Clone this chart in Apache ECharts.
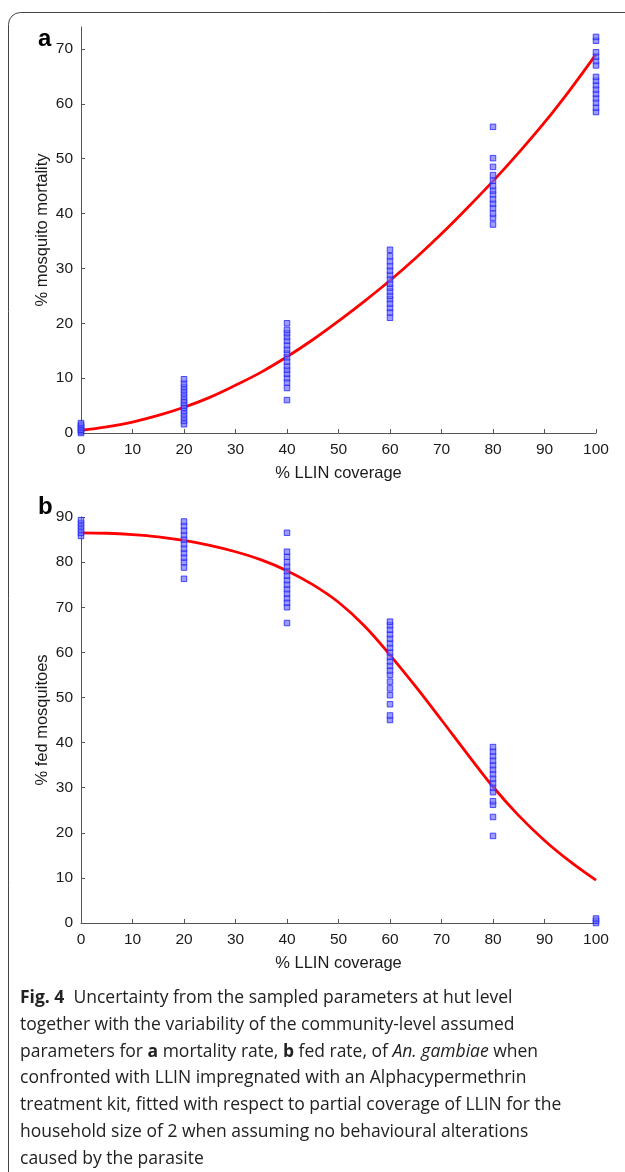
<!DOCTYPE html>
<html>
<head>
<meta charset="utf-8">
<script src="https://cdn.jsdelivr.net/npm/echarts@6/dist/echarts.min.js"></script>
<style>
html,body{margin:0;padding:0;background:#fff;}
#chart{width:625px;height:1172px;}
</style>
</head>
<body>
<div id="chart"></div>
<script>
// ---- data ----
var coverage = [0, 20, 40, 60, 80, 100];

// panel a: % mosquito mortality, sampled values at each coverage
var mortality0 = [0, 0.3, 0.6, 0.9, 1.2, 1.5, 1.8];
var mortality20 = [1.6, 2.2, 2.8, 3.4, 4.0, 4.6, 5.0, 5.5, 6.0, 6.6, 7.2, 7.8, 8.4, 9.0, 9.8];
var mortality40 = [6.0, 8.2, 9.2, 10.0, 10.8, 11.5, 12.2, 13.0, 13.8, 14.5, 15.2, 16.0, 16.8, 17.5, 18.2, 18.8, 20.0];
var mortality60 = [21.0, 22.0, 22.8, 23.6, 24.4, 25.0, 25.8, 26.5, 27.2, 28.0, 28.8, 29.6, 30.4, 31.3, 32.2, 33.4];
var mortality80 = [38.0, 39.2, 40.0, 41.0, 41.8, 42.6, 43.5, 44.2, 45.0, 46.0, 47.0, 48.5, 50.1, 55.8];
var mortality100 = [58.5, 59.3, 60.2, 61.0, 61.8, 62.6, 63.4, 64.2, 64.9, 67.0, 67.8, 68.6, 69.4, 71.5, 72.2];

// panel b: % fed mosquitoes
var fed0 = [85.8, 86.5, 87.2, 87.9, 88.6, 89.3, 90.2];
var fed20 = [76.3, 78.8, 80.0, 81.0, 82.0, 83.0, 84.0, 85.0, 86.0, 87.0, 88.0, 89.0];
var fed40 = [66.5, 70.0, 71.0, 72.0, 73.0, 74.0, 75.0, 76.0, 77.0, 78.0, 79.0, 80.0, 81.2, 82.3, 86.5];
var fed60 = [45.0, 46.0, 48.5, 50.5, 52.0, 53.5, 55.0, 56.0, 57.0, 58.0, 59.0, 60.0, 61.0, 62.0, 63.0, 64.0, 65.0, 66.0, 66.8];
var fed80 = [19.3, 23.5, 26.2, 27.0, 29.0, 30.0, 31.0, 32.0, 33.0, 34.0, 35.0, 36.0, 37.0, 38.0, 39.0];
var fed100 = [0, 0.5, 1.0];

// fitted curves
var curveX = [0, 5, 10, 15, 20, 25, 30, 35, 40, 45, 50, 55, 60, 65, 70, 75, 80, 85, 90, 95, 100];
var curveMortality = [0.5, 1.1, 2.0, 3.2, 4.7, 6.5, 8.7, 11.1, 13.9, 17.0, 20.4, 24.0, 27.8, 31.9, 36.3, 41.0, 45.9, 51.1, 56.6, 62.6, 69.0];
var curveFed = [86.5, 86.4, 86.1, 85.6, 84.8, 83.7, 82.3, 80.5, 78.1, 75.0, 71.1, 65.9, 59.4, 52.4, 45.0, 37.5, 30.2, 23.8, 18.3, 13.6, 9.5];

// tick labels
var xTicks = [0, 10, 20, 30, 40, 50, 60, 70, 80, 90, 100];
var yTicksA = [0, 10, 20, 30, 40, 50, 60, 70];
var yTicksB = [0, 10, 20, 30, 40, 50, 60, 70, 80, 90];

var captionLines = [
  '{b|Fig. 4}  Uncertainty from the sampled parameters at hut level',
  'together with the variability of the community-level assumed',
  'parameters for {b|a} mortality rate, {b|b} fed rate, of {i|An. gambiae} when',
  'confronted with LLIN impregnated with an Alphacypermethrin',
  'treatment kit, fitted with respect to partial coverage of LLIN for the',
  'household size of 2 when assuming no behavioural alterations',
  'caused by the parasite'
];

// ---- build ----
function pts(groups) {
  var out = [];
  groups.forEach(function (arr, i) {
    arr.forEach(function (v) { out.push([coverage[i], v]); });
  });
  return out;
}
function zip(xs, ys) { return xs.map(function (x, i) { return [x, ys[i]]; }); }

var scatterA = pts([mortality0, mortality20, mortality40, mortality60, mortality80, mortality100]);
var scatterB = pts([fed0, fed20, fed40, fed60, fed80, fed100]);

var axisColor = '#555';
var ff = 'Liberation Sans, Arial, sans-serif';
var labelFont = {color: '#1a1a1a', fontSize: 15.5, fontFamily: ff};
var nameFont = {color: '#1a1a1a', fontSize: 16.5, fontFamily: ff};

function xAxis(gi) {
  return {
    type: 'value', gridIndex: gi, min: 0, max: 100, interval: 10,
    name: '% LLIN coverage', nameLocation: 'middle', nameGap: 32, nameTextStyle: nameFont,
    nameMoveOverlap: false,
    axisLine: {show: true, lineStyle: {color: axisColor, width: 1}},
    axisTick: {show: true, inside: true, length: 4, lineStyle: {color: axisColor}},
    axisLabel: Object.assign({margin: 9, customValues: xTicks}, labelFont),
    splitLine: {show: false}
  };
}
function yAxis(gi, name, max, ticks) {
  return {
    type: 'value', gridIndex: gi, min: 0, max: max, interval: 10,
    name: name, nameLocation: 'middle', nameGap: 30, nameTextStyle: nameFont,
    nameMoveOverlap: false,
    axisLine: {show: true, lineStyle: {color: axisColor, width: 1}},
    axisTick: {show: true, inside: true, length: 4, lineStyle: {color: axisColor}, customValues: ticks},
    axisLabel: Object.assign({margin: 8, customValues: ticks}, labelFont),
    splitLine: {show: false}
  };
}

var markerStyle = {color: 'rgba(110,110,255,0.85)', borderColor: '#2424ff', borderWidth: 1};
var lineStyle = {color: '#ff0000', width: 2.8};

var chart = echarts.init(document.getElementById('chart'), null, {renderer: 'canvas'});
chart.setOption({
  animation: false,
  backgroundColor: '#fff',
  grid: [
    {left: 81, right: 29, top: 27, bottom: 1172 - 433},
    {left: 81, right: 29, top: 517, bottom: 1172 - 923}
  ],
  xAxis: [xAxis(0), xAxis(1)],
  yAxis: [
    yAxis(0, '% mosquito mortality', 74, yTicksA),
    yAxis(1, '% fed mosquitoes', 90, yTicksB)
  ],
  series: [
    {type: 'line', xAxisIndex: 0, yAxisIndex: 0, data: zip(curveX, curveMortality), smooth: 0.4,
     showSymbol: false, lineStyle: lineStyle, z: 2},
    {type: 'scatter', xAxisIndex: 0, yAxisIndex: 0, data: scatterA, symbol: 'rect', symbolSize: 5.5,
     itemStyle: markerStyle, z: 3},
    {type: 'line', xAxisIndex: 1, yAxisIndex: 1, data: zip(curveX, curveFed), smooth: 0.4,
     showSymbol: false, lineStyle: lineStyle, z: 2},
    {type: 'scatter', xAxisIndex: 1, yAxisIndex: 1, data: scatterB, symbol: 'rect', symbolSize: 5.5,
     itemStyle: markerStyle, z: 3}
  ],
  graphic: [
    {type: 'rect', shape: {x: 8.5, y: 12.5, width: 800, height: 1400, r: [12, 0, 0, 0]},
     style: {fill: 'none', stroke: '#444', lineWidth: 1}, silent: true},
    {type: 'text', left: 38, top: 27, style: {text: 'a', font: 'bold 24px Liberation Sans, Arial, sans-serif', fill: '#000'}},
    {type: 'text', left: 38, top: 495, style: {text: 'b', font: 'bold 24px Liberation Sans, Arial, sans-serif', fill: '#000'}},
    {type: 'text', left: 20, top: 985,
     style: {
       text: captionLines.join('\n'),
       font: '17.5px Open Sans, sans-serif', fill: '#222', lineHeight: 26.7,
       rich: {
         b: {font: 'bold 17.5px Open Sans, sans-serif', fill: '#222', lineHeight: 26.7},
         i: {font: 'italic 17.5px Open Sans, sans-serif', fill: '#222', lineHeight: 26.7}
       }
     }}
  ]
});
</script>
</body>
</html>
